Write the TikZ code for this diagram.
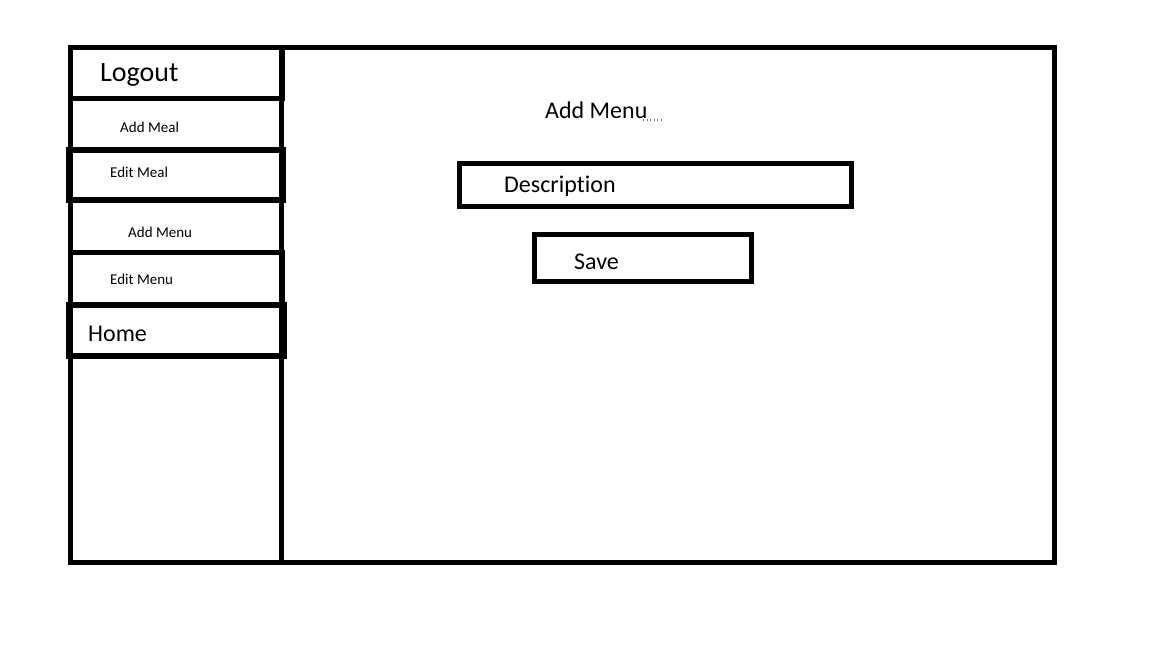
\documentclass[tikz,border=0pt]{standalone}
\usepackage{fontspec}
\setmainfont{Carlito}[Ligatures=NoCommon]
\begin{document}
\begin{tikzpicture}[x=1pt,y=-1pt,
  frame/.style={draw=black,line width=5pt},
  box/.style={draw=black,line width=5pt,rectangle,inner sep=0pt,outer sep=0pt,anchor=north west},
  big/.style={anchor=base west,inner sep=0pt,font=\fontsize{24}{28}\selectfont},
  huge/.style={anchor=base west,inner sep=0pt,font=\fontsize{28}{32}\selectfont},
  small/.style={anchor=base west,inner sep=0pt,font=\fontsize{15}{18}\selectfont}]
\useasboundingbox (0,0) rectangle (1152,648);
% outer frame and sidebar divider
\draw[frame] (70,47.5) rectangle (1054.5,562);
\draw[frame] (281.5,47.5) -- (281.5,562);
% sidebar boxes
\node[box,minimum width=212pt,minimum height=51pt] (logout) at (70,47) {};
\node[box,minimum width=211pt,minimum height=52pt] (addmeal) at (70,98) {};
\node[box,minimum width=214pt,minimum height=50pt,line width=6pt] (editmeal) at (68.5,150) {};
\node[box,minimum width=211pt,minimum height=52pt] (addmenu) at (70,200) {};
\node[box,minimum width=212.5pt,minimum height=52pt] (editmenu) at (70,252) {};
\node[box,minimum width=214.5pt,minimum height=51pt,line width=6pt] (home) at (69,305) {};
% sidebar labels
\node[huge] (tlogout) at (100,81) {Logout};
\node[small] (taddmeal) at (120,132) {Add Meal};
\node[small] (teditmeal) at (110,177) {Edit Meal};
\node[small] (taddmenu) at (128,237.5) {Add Menu};
\node[small] (teditmenu) at (110,284.5) {Edit Menu};
\node[big] (thome) at (88,341) {Home};
% main content
\node[big] (title) at (545,118.5) {Add Menu};
\coordinate (dotA) at (643,120);
\coordinate (dotB) at (662,120);
\draw[black!55,line width=1.2pt,dash pattern=on 1.2pt off 2.3pt] (dotA) -- (dotB);
\node[box,minimum width=392pt,minimum height=43pt] (desc) at (459,163) {};
\node[big] (tdesc) at (504,192) {Description};
\node[box,minimum width=217pt,minimum height=47pt] (save) at (534,234) {};
\node[big] (tsave) at (574,269.5) {Save};
\end{tikzpicture}
\end{document}
